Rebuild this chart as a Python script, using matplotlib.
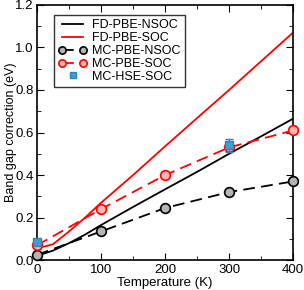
import matplotlib
matplotlib.use('Agg')
import matplotlib.pyplot as plt
from matplotlib.ticker import MultipleLocator
from matplotlib.lines import Line2D
from matplotlib.legend_handler import HandlerLine2D

plt.rcParams['font.family'] = ['Liberation Sans', 'DejaVu Sans']

# FD curves
fd_T = [0, 10, 25, 50, 75, 100, 150, 200, 250, 300, 350, 400]
fd_pbe_nsoc = [0.025, 0.03, 0.045, 0.08, 0.12, 0.165, 0.25, 0.333, 0.415, 0.50, 0.582, 0.665]
fd_pbe_soc = [0.065, 0.063, 0.075, 0.135, 0.20, 0.27, 0.40, 0.535, 0.668, 0.80, 0.935, 1.07]

# MC results
mc_T = [0, 100, 200, 300, 400]
mc_pbe_nsoc = [0.025, 0.135, 0.245, 0.32, 0.37]
mc_pbe_soc = [0.07, 0.24, 0.40, 0.53, 0.61]

hse_T = [0, 300]
hse_soc = [0.085, 0.54]
hse_err = [0.01, 0.03]

fig = plt.figure(figsize=(3.04, 2.90), dpi=100)
ax = fig.add_axes([0.122, 0.103, 0.842, 0.880])

ax.plot(fd_T, fd_pbe_nsoc, color='black', lw=1.3, label='FD-PBE-NSOC')
ax.plot(fd_T, fd_pbe_soc, color='red', lw=1.3, label='FD-PBE-SOC')
ax.plot(mc_T, mc_pbe_nsoc, color='black', lw=1.3, ls=(0, (6.5, 3.5)), marker='o', ms=7,
        mfc='#b4b4b4', mec='black', mew=1.2, label='MC-PBE-NSOC', clip_on=False, zorder=4)
ax.plot(mc_T, mc_pbe_soc, color='red', lw=1.3, ls=(0, (6.5, 3.5)), marker='o', ms=7,
        mfc='#ffb4b4', mec='red', mew=1.2, label='MC-PBE-SOC', clip_on=False, zorder=4)
eb = ax.errorbar(hse_T, hse_soc, yerr=hse_err, fmt='s', ms=6, mfc='#3fa0d0',
                 mec='#2a86b8', ecolor='#2a86b8', elinewidth=1, capsize=3, zorder=5)
for art in eb.lines[0:1] + eb.lines[1] + eb.lines[2]:
    art.set_clip_on(False)

ax.set_xlim(0, 400)
ax.set_ylim(0, 1.2)
ax.xaxis.set_major_locator(MultipleLocator(100))
ax.xaxis.set_minor_locator(MultipleLocator(50))
ax.set_yticks([0, 0.2, 0.4, 0.6, 0.8, 1.0, 1.2])
ax.set_yticklabels(['0.0', '0.2', '0.4', '0.6', '0.8', '1.0', '1.2'])
ax.yaxis.set_minor_locator(MultipleLocator(0.1))
ax.tick_params(which='both', direction='in', top=True, right=True, labelsize=9.5, pad=2.5)
ax.tick_params(which='major', length=5)
ax.tick_params(which='minor', length=3)
for s in ax.spines.values():
    s.set_linewidth(1.2)

ax.set_xlabel('Temperature (K)', fontsize=9.5, labelpad=1)
ax.set_ylabel('Band gap correction (eV)', fontsize=9)
ax.yaxis.set_label_coords(-0.08, 0.5)

hse_handle = Line2D([], [], ls='none', marker='s', ms=6, mfc='#3fa0d0', mec='#2a86b8')
handles, labels = ax.get_legend_handles_labels()
handles.append(hse_handle)
labels.append('MC-HSE-SOC')
leg = ax.legend(handles, labels, loc='upper left', bbox_to_anchor=(0.066, 0.961), fontsize=9,
                frameon=True, fancybox=False, edgecolor='black', handlelength=2.3,
                borderpad=0.35, labelspacing=0.07, handletextpad=0.4, numpoints=2,
                markerscale=0.75, borderaxespad=0,
                handler_map={hse_handle: HandlerLine2D(numpoints=1)})
leg.get_frame().set_linewidth(1.0)

fig.savefig('out.png', dpi=100)
